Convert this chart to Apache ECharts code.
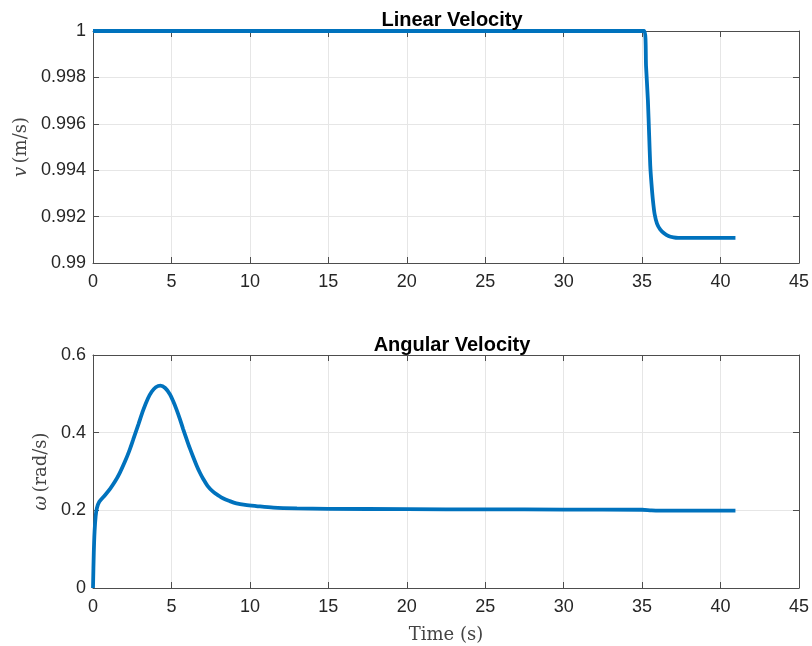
<!DOCTYPE html>
<html>
<head>
<meta charset="utf-8">
<script src="https://cdn.jsdelivr.net/npm/echarts@6/dist/echarts.min.js"></script>
<style>
  html, body { margin: 0; padding: 0; background: #fff; }
  #chart { width: 812px; height: 646px; }
</style>
</head>
<body>
<div id="chart"></div>
<script>
// linear velocity v (m/s) against time (s)
const vTime = [0, 35.15, 35.25, 35.37, 35.45, 35.52, 35.6, 35.69, 35.8, 35.95, 36.15, 36.4, 36.68, 37.0, 37.3, 38, 39, 40.95];
const vValue = [1, 1, 0.9985, 0.997, 0.9955, 0.9942, 0.9934, 0.9927, 0.9921, 0.9917, 0.99145, 0.99128, 0.99116, 0.9911, 0.99108, 0.99108, 0.99108, 0.99108];

// angular velocity w (rad/s) against time (s)
const wTime = [0, 0.05, 0.1, 0.17, 0.25, 0.4, 0.76, 1.1, 1.4, 1.7, 2.03, 2.3, 2.56, 2.9, 3.2, 3.5, 3.75, 4.0, 4.3, 4.6, 4.9, 5.1, 5.32, 5.54, 5.74, 5.96, 6.17, 6.38, 6.59, 6.8, 7.01, 7.3, 7.65, 8.0, 8.28, 8.7, 9.14, 9.7, 10.4, 11.5, 13, 15, 20, 25, 30, 35, 35.6, 36.5, 40.95];
const wValue = [0, 0.09, 0.145, 0.185, 0.206, 0.222, 0.239, 0.256, 0.274, 0.296, 0.325, 0.352, 0.382, 0.422, 0.458, 0.488, 0.506, 0.517, 0.521, 0.515, 0.499, 0.482, 0.46, 0.435, 0.41, 0.384, 0.36, 0.338, 0.317, 0.298, 0.282, 0.263, 0.248, 0.238, 0.231, 0.224, 0.218, 0.214, 0.211, 0.207, 0.205, 0.204, 0.203, 0.2025, 0.202, 0.2015, 0.2, 0.199, 0.199];

const xTicks = { min: 0, max: 45, interval: 5 };
const vTicks = { min: 0.99, max: 1, interval: 0.002 };
const wTicks = { min: 0, max: 0.6, interval: 0.2 };

const axisColor = '#4d4d4d';
const labelColor = '#262626';
const gridColor = '#e6e6e6';
const sans = 'Liberation Sans, Arial, sans-serif';
const serif = 'DejaVu Serif, serif';

function fmt(v) {
  return String(parseFloat(v.toFixed(3)));
}

function xAxis(grid, main) {
  return {
    type: 'value', gridIndex: grid, ...xTicks,
    position: main ? 'bottom' : 'top',
    axisLine: { show: true, onZero: false, lineStyle: { color: axisColor, width: 1 } },
    axisTick: { show: true, inside: true, length: 6, lineStyle: { color: axisColor } },
    axisLabel: { show: main, color: labelColor, fontFamily: sans, fontSize: 18, margin: 10, formatter: fmt },
    splitLine: { show: main, lineStyle: { color: gridColor } },
    name: main && grid === 1 ? 'Time (s)' : '',
    nameLocation: 'middle', nameGap: 38,
    nameTextStyle: { fontFamily: serif, fontSize: 18, color: '#444' }
  };
}

function yAxis(grid, main, ticks, sym, unit, gap) {
  return {
    type: 'value', gridIndex: grid, ...ticks,
    position: main ? 'left' : 'right',
    axisLine: { show: true, onZero: false, lineStyle: { color: axisColor, width: 1 } },
    axisTick: { show: true, inside: true, length: 6, lineStyle: { color: axisColor } },
    axisLabel: { show: main, color: labelColor, fontFamily: sans, fontSize: 18, margin: 7, formatter: fmt },
    splitLine: { show: main, lineStyle: { color: gridColor } },
    name: main ? '{s|' + sym + '} {u|' + unit + '}' : '',
    nameLocation: 'middle', nameRotate: 90, nameGap: gap,
    nameTextStyle: {
      rich: {
        s: { fontFamily: serif, fontStyle: 'italic', fontSize: 18, color: '#444' },
        u: { fontFamily: serif, fontSize: 18, color: '#444' }
      }
    }
  };
}

function pairs(xs, ys) {
  return xs.map((x, i) => [x, ys[i]]);
}

const chart = echarts.init(document.getElementById('chart'));
chart.setOption({
  animation: false,
  backgroundColor: '#fff',
  title: [
    { text: 'Linear Velocity', left: 447, top: 5, textAlign: 'center',
      textStyle: { fontFamily: sans, fontWeight: 'bold', fontSize: 20, color: '#000' } },
    { text: 'Angular Velocity', left: 447, top: 330, textAlign: 'center',
      textStyle: { fontFamily: sans, fontWeight: 'bold', fontSize: 20, color: '#000' } }
  ],
  grid: [
    { left: 93, right: 11, top: 31, height: 232 },
    { left: 93, right: 11, top: 355, height: 233 }
  ],
  xAxis: [xAxis(0, true), xAxis(0, false), xAxis(1, true), xAxis(1, false)],
  yAxis: [
    yAxis(0, true, vTicks, 'v', '(m/s)', 63), yAxis(0, false, vTicks, '', '', 0),
    yAxis(1, true, wTicks, 'ω', '(rad/s)', 42), yAxis(1, false, wTicks, '', '', 0)
  ],
  series: [
    { type: 'line', xAxisIndex: 0, yAxisIndex: 0, data: pairs(vTime, vValue), showSymbol: false,
      smooth: 0.2, lineStyle: { color: '#0072BD', width: 3.8 }, z: 5 },
    { type: 'line', xAxisIndex: 2, yAxisIndex: 2, data: pairs(wTime, wValue), showSymbol: false,
      smooth: 0.3, lineStyle: { color: '#0072BD', width: 3.8 }, z: 5 }
  ]
});
</script>
</body>
</html>
